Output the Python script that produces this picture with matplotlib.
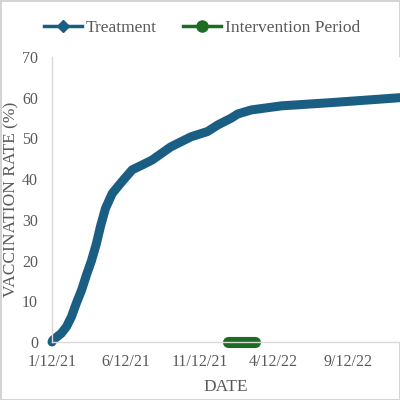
import pandas as pd
import numpy as np
import matplotlib
matplotlib.use('Agg')
import matplotlib.pyplot as plt
from matplotlib.lines import Line2D

# treatment series
dates = ['2021-01-12', '2021-01-14', '2021-01-31', '2021-02-11', '2021-02-21',
         '2021-03-03', '2021-03-14', '2021-03-24', '2021-04-03', '2021-04-13',
         '2021-04-22', '2021-05-02', '2021-05-16', '2021-06-05', '2021-06-26',
         '2021-07-17', '2021-08-06', '2021-09-13', '2021-10-25', '2021-11-28',
         '2021-12-19', '2022-01-16', '2022-01-29', '2022-02-26', '2022-04-29',
         '2022-08-10', '2022-10-31', '2022-12-28']
rate = [0.0, 0.5, 2.1, 3.8, 6.2,
        9.5, 12.8, 16.5, 19.9, 24.0,
        28.5, 32.8, 36.5, 39.4, 42.3,
        43.5, 44.7, 47.9, 50.4, 51.7,
        53.3, 55.0, 56.0, 57.0, 58.0,
        58.8, 59.5, 60.0]

# intervention period (drawn at 0)
interv_dates = ['2022-01-10', '2022-03-06']
interv_vals = [0, 0]

tick_dates = ['2021-01-12', '2021-06-12', '2021-11-12', '2022-04-12', '2022-09-12']

blue = '#1b5e84'
green = '#1e6b24'
grey = '#595959'

plt.rcParams['font.family'] = ['Liberation Serif', 'DejaVu Serif']

fig = plt.figure(figsize=(4, 4), dpi=100, edgecolor='#d4d4d4', linewidth=2)
ax = fig.add_axes([0.13, 0.145, 0.87, 0.7125])

x = pd.to_datetime(dates)
ax.plot(x, rate, color=blue, lw=6.5, solid_capstyle='round',
        solid_joinstyle='round', clip_on=False)
xi = pd.to_datetime(interv_dates)
ax.plot(xi, interv_vals, color=green, lw=8, solid_capstyle='round', clip_on=False)

ax.set_xlim(pd.Timestamp('2021-01-12'), pd.Timestamp('2022-12-29'))
ax.set_ylim(0, 70)
ax.set_yticks(range(0, 71, 10))
td = pd.to_datetime(tick_dates)
ax.set_xticks(td)
ax.set_xticklabels([f'{d.month}/{d.day}/{d.year % 100}' for d in td])

for s in ['top', 'right']:
    ax.spines[s].set_visible(False)
for s in ['left', 'bottom']:
    ax.spines[s].set_color('#d9d9d9')
    ax.spines[s].set_linewidth(1)
ax.tick_params(axis='both', length=0, labelsize=11.5, colors=grey)
ax.tick_params(axis='y', pad=10)
ax.tick_params(axis='x', pad=9)

ax.set_xlabel('DATE', fontsize=12.5, color=grey, labelpad=6)
ax.set_ylabel('VACCINATION RATE (%)', fontsize=12.5, color=grey, labelpad=2)

handles = [Line2D([0], [0], color=blue, lw=2.5, marker='D', markersize=6),
           Line2D([0], [0], color=green, lw=2.5, marker='o', markersize=8)]
fig.legend(handles, ['Treatment', 'Intervention Period'], loc='center',
           bbox_to_anchor=(0.505, 0.93), ncol=2, frameon=False, fontsize=12.5,
           labelcolor=grey, handlelength=2.2, handletextpad=0.2, columnspacing=1.5)

fig.savefig('out.png', dpi=100, edgecolor=fig.get_edgecolor())
